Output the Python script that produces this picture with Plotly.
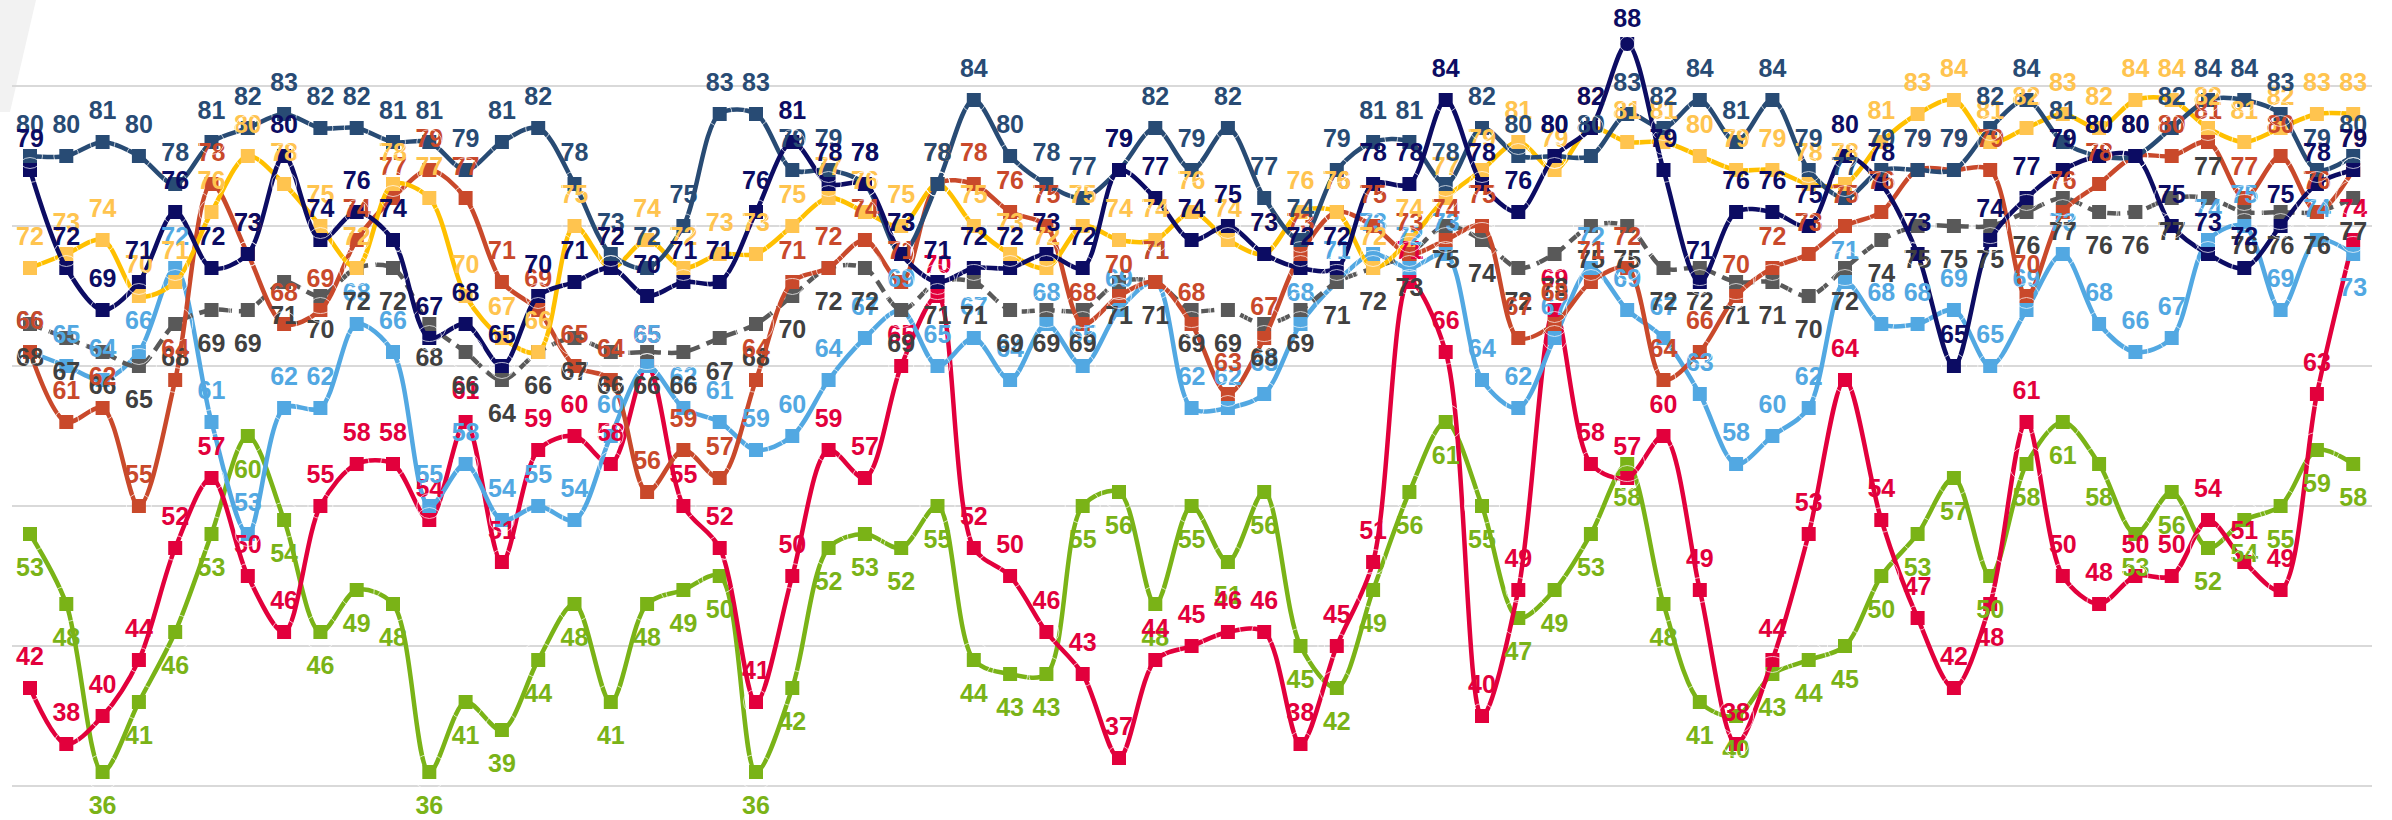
import plotly.graph_objects as go

# ---------------- data ----------------
x = list(range(65))

navy = [79, 72, 69, 71, 76, 72, 73, 80, 74, 76, 74,
        67, 68, 65, 70, 71, 72, 70, 71, 71, 76, 81,
        78, 78, 73, 71, 72, 72, 73, 72, 79, 77, 74,
        75, 73, 72, 72, 78, 78, 84, 78, 76, 80, 82,
        88, 79, 71, 76, 76, 75, 80, 78, 73, 65, 74,
        77, 79, 80, 80, 75, 73, 72, 75, 78, 79]

dark_blue = [80, 80, 81, 80, 78, 81, 82, 83, 82, 82, 81,
             81, 79, 81, 82, 78, 73, 72, 75, 83, 83, 79,
             79, 78, 73, 78, 84, 80, 78, 77, 79, 82, 79,
             82, 77, 74, 79, 81, 81, 78, 82, 80, 80, 80,
             83, 82, 84, 81, 84, 79, 77, 79, 79, 79, 82,
             84, 81, 80, 80, 82, 84, 84, 83, 79, 80]

gold = [72, 73, 74, 70, 71, 76, 80, 78, 75, 72, 78,
        77, 70, 67, 66, 75, 72, 74, 72, 73, 73, 75,
        77, 76, 75, 78, 75, 73, 72, 75, 74, 74, 76,
        74, 73, 76, 76, 72, 74, 77, 79, 81, 79, 82,
        81, 81, 80, 79, 79, 78, 78, 81, 83, 84, 81,
        82, 83, 82, 84, 84, 82, 81, 82, 83, 83]

orange = [66, 61, 62, 55, 64, 78, 73, 68, 69, 74, 77,
          79, 77, 71, 69, 65, 64, 56, 59, 57, 64, 71,
          72, 74, 71, 78, 78, 76, 75, 68, 70, 71, 68,
          63, 67, 73, 76, 75, 73, 74, 75, 67, 68, 71,
          72, 64, 66, 70, 72, 73, 75, 76, 79, 79, 79,
          70, 76, 78, 80, 80, 81, 77, 80, 76, 79]

gray = [68, 67, 66, 65, 68, 69, 69, 71, 70, 72, 72,
        68, 66, 64, 66, 67, 66, 66, 66, 67, 68, 70,
        72, 72, 69, 71, 71, 69, 69, 69, 71, 71, 69,
        69, 68, 69, 71, 72, 73, 75, 74, 72, 73, 75,
        75, 72, 72, 71, 71, 70, 72, 74, 75, 75, 75,
        76, 77, 76, 76, 77, 77, 76, 76, 76, 77]

light_blue = [66, 65, 64, 66, 72, 61, 53, 62, 62, 68, 66,
              55, 58, 54, 55, 54, 60, 65, 62, 61, 59, 60,
              64, 67, 69, 65, 67, 64, 68, 65, 69, 71, 62,
              62, 63, 68, 71, 73, 72, 73, 64, 62, 67, 72,
              69, 67, 63, 58, 60, 62, 71, 68, 68, 69, 65,
              69, 73, 68, 66, 67, 74, 75, 69, 74, 73]

crimson = [42, 38, 40, 44, 52, 57, 50, 46, 55, 58, 58,
           54, 61, 51, 59, 60, 58, 65, 55, 52, 41, 50,
           59, 57, 65, 70, 52, 50, 46, 43, 37, 44, 45,
           46, 46, 38, 45, 51, 71, 66, 40, 49, 69, 58,
           57, 60, 49, 38, 44, 53, 64, 54, 47, 42, 48,
           61, 50, 48, 50, 50, 54, 51, 49, 63, 74]

green = [53, 48, 36, 41, 46, 53, 60, 54, 46, 49, 48,
         36, 41, 39, 44, 48, 41, 48, 49, 50, 36, 42,
         52, 53, 52, 55, 44, 43, 43, 55, 56, 48, 55,
         51, 56, 45, 42, 49, 56, 61, 55, 47, 49, 53,
         58, 48, 41, 40, 43, 44, 45, 50, 53, 57, 50,
         58, 61, 58, 53, 56, 52, 54, 55, 59, 58]

# ---------------- styling ----------------
W, H = 2392, 820
PLOT_L, PLOT_R = 12, 2372

def positions(default, exceptions=None):
    p = [default] * len(x)
    for i, v in (exceptions or {}).items():
        p[i] = v
    return p

# (values, line colour, marker colour, label colour, dash, label positions, label-gap overrides)
series = [
    (green, "#7ab317", "#7ab317", "#7ab317", "solid", positions("bottom center"), {}),
    (crimson, "#e2003c", "#e2003c", "#e2003c", "solid", positions("top center", {54: "bottom center"}), {}),
    (light_blue, "#52a8e2", "#52a8e2", "#52a8e2", "solid", positions("top center", {64: "bottom center"}), {}),
    (gray, "#595959", "#595959", "#404040", "13px,7px", positions("bottom center", {60: "top center"}), {}),
    (orange, "#c9492b", "#c9492b", "#c9492b", "solid", positions("top center"), {}),
    (gold, "#ffc000", "#ffc44f", "#ffc44f", "solid", positions("top center"), {}),
    (dark_blue, "#284b74", "#284b74", "#284b74", "solid", positions("top center"), {}),
    (navy, "#0c0c63", "#0c0c63", "#0c0c63", "solid", positions("top center"), {44: 15}),
]

fig = go.Figure()

for vals, lc, mc, tc, dash, pos, gaps in series:
    fig.add_trace(go.Scatter(
        x=x, y=vals, mode="lines+markers",
        line=dict(color=lc, width=4.5, shape="spline", smoothing=0.9, dash=dash),
        marker=dict(symbol="square", size=14, color=mc),
        hoverinfo="skip", showlegend=False,
    ))

for vals, lc, mc, tc, dash, pos, gaps in series:
    sizes = [gaps.get(i, 25 if p.startswith("top") else 35) for i, p in enumerate(pos)]
    fig.add_trace(go.Scatter(
        x=x, y=vals, mode="markers+text",
        text=[str(v) for v in vals], textposition=pos,
        textfont=dict(family="Liberation Sans, Arial, sans-serif", size=25, color=tc, weight="bold"),
        marker=dict(size=sizes, color="rgba(0,0,0,0)"),
        hoverinfo="skip", showlegend=False, cliponaxis=False,
    ))

# light grey decorative corner shape (top-left)
pw = PLOT_R - PLOT_L
def px(v):
    return (v - PLOT_L) / pw
def py(v):
    return 1 - v / H
path = (f"M {px(0)},{py(0)} L {px(36)},{py(0)} L {px(10)},{py(112)} "
        f"L {px(0)},{py(112)} Z")
fig.add_shape(type="path", path=path, xref="paper", yref="paper",
              fillcolor="#f2f2f2", line=dict(width=0), layer="below")

fig.update_layout(
    width=W, height=H,
    margin=dict(l=PLOT_L, r=W - PLOT_R, t=0, b=0, pad=0),
    paper_bgcolor="white", plot_bgcolor="white",
    showlegend=False,
)
fig.update_xaxes(range=[-0.496, 64.518], showgrid=False, zeroline=False,
                 showticklabels=False, ticks="", showline=False)
fig.update_yaxes(range=[35 - 34 / 14, 85 + 86 / 14], tick0=5, dtick=10,
                 showgrid=True, gridcolor="#d9d9d9", gridwidth=1.5,
                 zeroline=False, showticklabels=False, ticks="", showline=False)

fig.write_html("out.html", config={"displayModeBar": False},
               post_script="document.body.style.margin='0';")
